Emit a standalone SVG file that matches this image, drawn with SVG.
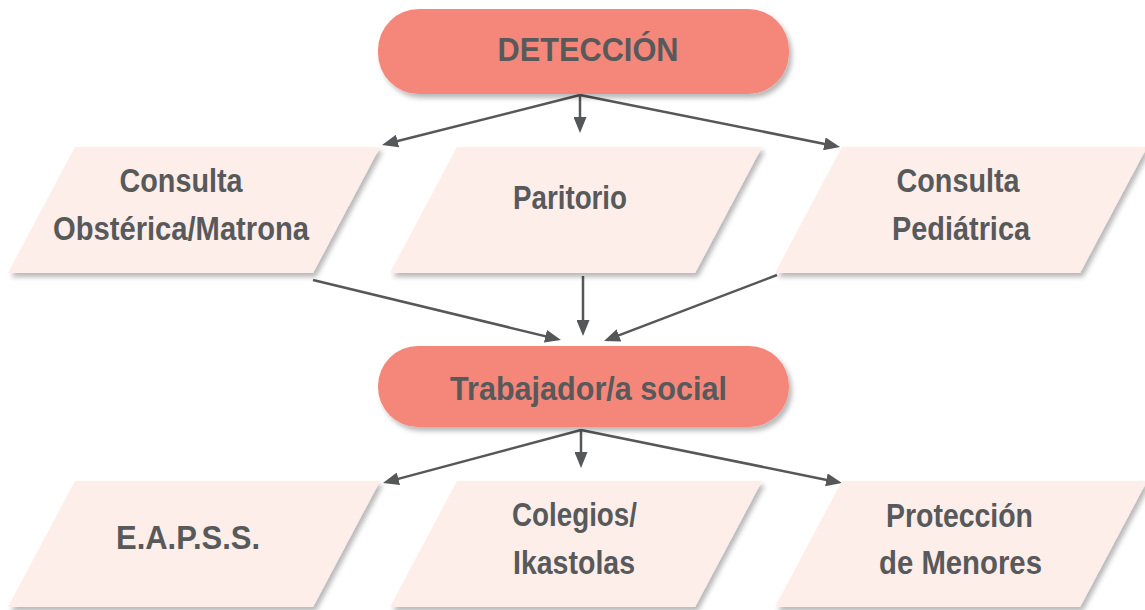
<svg xmlns="http://www.w3.org/2000/svg" width="1145" height="610" viewBox="0 0 1145 610">
<defs>
<filter id="sh" x="-10%" y="-10%" width="130%" height="140%">
<feDropShadow dx="3" dy="4" stdDeviation="2.5" flood-color="#000" flood-opacity="0.28"/>
</filter>
<marker id="ah" markerUnits="userSpaceOnUse" markerWidth="16" markerHeight="13" refX="8" refY="6.5" orient="auto">
<path d="M0,0 L16,6.5 L0,13 z" fill="#555759"/>
</marker>
<style>
.main{fill:#f4877a;filter:url(#sh)}
.para{fill:#fdeeea;filter:url(#sh)}
text{font-family:"Liberation Sans",Arial,sans-serif;font-weight:bold;fill:#58595b;text-anchor:middle}
.t{font-size:34px}
.p{font-size:33px}
.c line{stroke:#555759;stroke-width:2.5;marker-end:url(#ah)}
</style>
</defs>
<rect width="1145" height="610" fill="#ffffff"/>

<g id="connectors" class="c">
<line x1="580" y1="95" x2="389.8" y2="143"/>
<line x1="580" y1="95" x2="580" y2="125"/>
<line x1="580" y1="95" x2="832.2" y2="145.4"/>
<line x1="313" y1="280" x2="553.2" y2="338.1"/>
<line x1="583" y1="276" x2="583" y2="328"/>
<line x1="777" y1="275" x2="611.5" y2="338.2"/>
<line x1="581" y1="430" x2="390.7" y2="480.9"/>
<line x1="581" y1="430" x2="581" y2="460"/>
<line x1="581" y1="430" x2="834.2" y2="481.4"/>
</g>

<g id="deteccion">
<rect class="main" x="378" y="9" width="411" height="85" rx="41"/>
<text class="t" x="588" y="61" textLength="181" lengthAdjust="spacingAndGlyphs">DETECCIÓN</text>
</g>

<g id="consulta-obstetrica">
<polygon class="para" points="75,147 380,147 313,273 8,273"/>
<text class="p" x="181" y="192" textLength="123" lengthAdjust="spacingAndGlyphs">Consulta</text>
<text class="p" x="181" y="240" textLength="256" lengthAdjust="spacingAndGlyphs">Obstérica/Matrona</text>
</g>

<g id="paritorio">
<polygon class="para" points="457,147 762,147 695,273 390,273"/>
<text class="p" x="570" y="209" textLength="114" lengthAdjust="spacingAndGlyphs">Paritorio</text>
</g>

<g id="consulta-pediatrica">
<polygon class="para" points="842,147 1147,147 1080,273 775,273"/>
<text class="p" x="958" y="192" textLength="123" lengthAdjust="spacingAndGlyphs">Consulta</text>
<text class="p" x="961" y="240" textLength="138" lengthAdjust="spacingAndGlyphs">Pediátrica</text>
</g>

<g id="trabajador">
<rect class="main" x="378" y="346" width="411" height="81" rx="40"/>
<text class="t" x="588.5" y="400" textLength="277" lengthAdjust="spacingAndGlyphs">Trabajador/a social</text>
</g>

<g id="eapss">
<polygon class="para" points="75,481 380,481 313,607 8,607"/>
<text class="p" x="188" y="549" textLength="144" lengthAdjust="spacingAndGlyphs">E.A.P.S.S.</text>
</g>

<g id="colegios">
<polygon class="para" points="457,481 762,481 695,607 390,607"/>
<text class="p" x="574.5" y="526" textLength="125" lengthAdjust="spacingAndGlyphs">Colegios/</text>
<text class="p" x="574" y="574" textLength="122" lengthAdjust="spacingAndGlyphs">Ikastolas</text>
</g>

<g id="proteccion">
<polygon class="para" points="842,481 1147,481 1080,607 775,607"/>
<text class="p" x="959.5" y="527" textLength="147" lengthAdjust="spacingAndGlyphs">Protección</text>
<text class="p" x="960.5" y="574" textLength="163" lengthAdjust="spacingAndGlyphs">de Menores</text>
</g>
</svg>
